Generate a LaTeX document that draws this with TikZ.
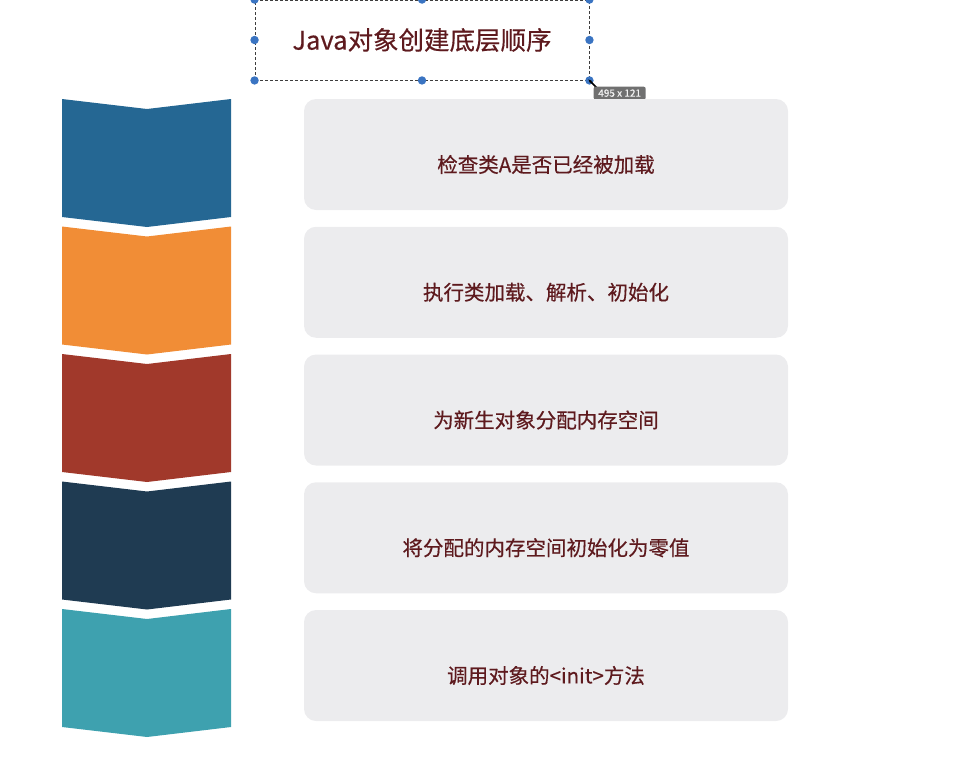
\documentclass[tikz,border=0pt]{standalone}
\usepackage{fontspec}
\newfontfamily\cjk[FakeBold=0.4]{Noto Sans CJK SC}
\usetikzlibrary{arrows.meta}
\definecolor{my_blue}{HTML}{256793}
\definecolor{my_orange}{HTML}{F18D36}
\definecolor{my_red}{HTML}{A1392B}
\definecolor{my_navy}{HTML}{1F3B52}
\definecolor{my_teal}{HTML}{3EA1AF}
\definecolor{my_boxgray}{HTML}{ECECEE}
\definecolor{my_textred}{HTML}{5E1A1E}
\definecolor{my_handle}{HTML}{3A74C2}
\definecolor{my_darkgray}{HTML}{3E3E3E}
\definecolor{my_taggray}{HTML}{707070}

\begin{document}
\begin{tikzpicture}[
    x=1pt, y=-1pt,
    stepbox/.style={fill=my_boxgray, rounded corners=12pt, inner sep=0pt,
        minimum width=484pt, minimum height=111pt},
    steptext/.style={font=\cjk\fontsize{20.5}{24}\selectfont, text=my_textred},
    titlebox/.style={draw=my_darkgray, dash pattern=on 3pt off 2pt, line width=0.9pt,
        inner sep=0pt, minimum width=334pt, minimum height=80pt,
        font=\cjk\fontsize{25.5}{30}\selectfont, text=my_textred},
    sizetag/.style={fill=my_taggray, rounded corners=2pt, inner xsep=3pt, inner ysep=2pt,
        minimum width=52pt, minimum height=13pt,
        font=\cjk\fontsize{10}{11}\selectfont, text=white!90!gray}
]
\useasboundingbox (0,0) rectangle (971,758);

% ===== Titel mit Auswahlrahmen =====
\node[titlebox] (title) at (422,40) {Java对象创建底层顺序};
\foreach \a in {north west, north, north east, east, south east, south, south west, west}
    \fill[my_handle] (title.\a) circle (4.2pt);
\draw[{Stealth[length=4pt]}-{Stealth[length=4pt]}, line width=1.6pt, black]
    ([shift={(-1,-1)}]title.south east) -- ([shift={(11,11)}]title.south east);
\node[sizetag, anchor=north west] (size) at ([shift={(4,6)}]title.south east) {495 x 121};

% ===== Pfeilband links und Schrittkaesten rechts =====
\foreach \i/\col/\txt in {0/my_blue/{检查类A是否已经被加载},
                          1/my_orange/{执行类加载、解析、初始化},
                          2/my_red/{为新生对象分配内存空间},
                          3/my_navy/{将分配的内存空间初始化为零值},
                          4/my_teal/{调用对象的<init>方法}} {
    \pgfmathsetmacro{\ytop}{99 + 127.5*\i}
    \fill[\col] (62,\ytop) -- (147,\ytop+10) -- (231,\ytop) -- (231,\ytop+118)
        -- (147,\ytop+128) -- (62,\ytop+118) -- cycle;
    \node[stepbox] (box\i) at (546, 154.5 + 127.75*\i) {};
    \node[steptext] (text\i) at ([yshift=-10pt]box\i.center) {\txt};
}

\end{tikzpicture}
\end{document}
